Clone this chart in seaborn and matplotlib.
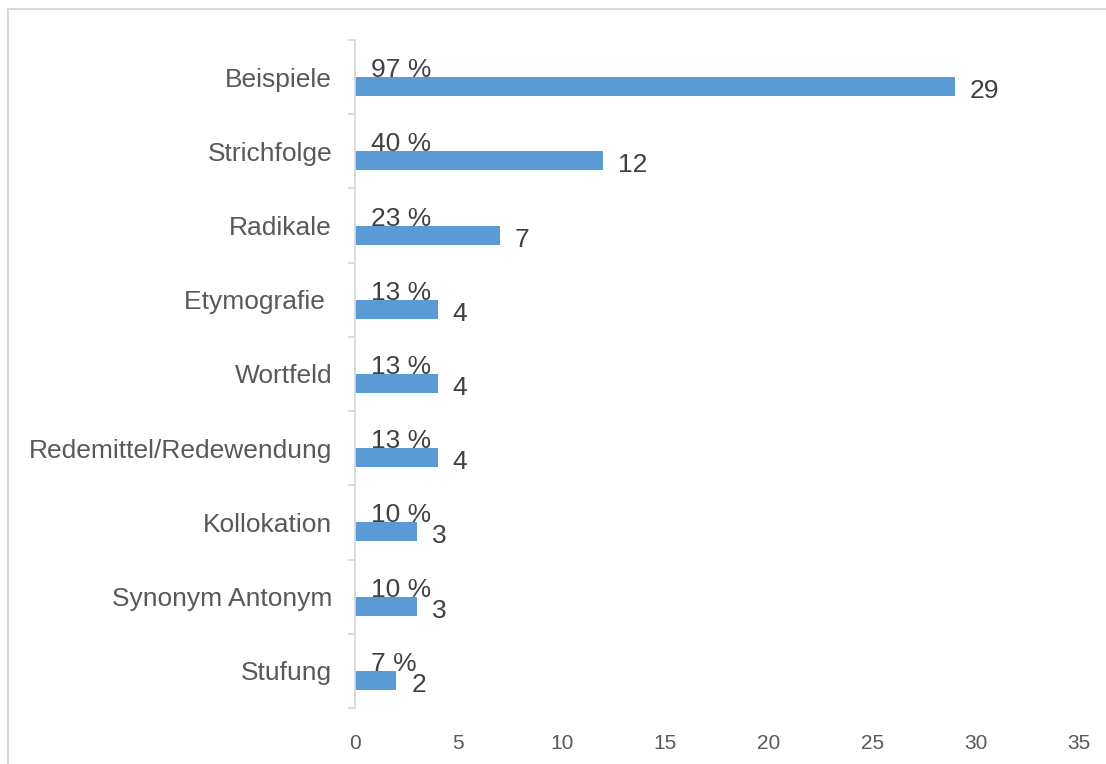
import matplotlib
matplotlib.use("Agg")
import matplotlib.pyplot as plt
from matplotlib.lines import Line2D
from matplotlib.ticker import FixedLocator
import pandas as pd
import seaborn as sns

# Data
categories = ["Beispiele", "Strichfolge", "Radikale", "Etymografie ", "Wortfeld",
              "Redemittel/Redewendung", "Kollokation", "Synonym Antonym", "Stufung"]
counts = [29, 12, 7, 4, 4, 4, 3, 3, 2]
shares = [97, 40, 23, 13, 13, 13, 10, 10, 7]
x_ticks = [0, 5, 10, 15, 20, 25, 30, 35]

sns.set_theme(style="white")
plt.rcParams["font.family"] = ["Liberation Sans", "DejaVu Sans"]

BLUE = "#5B9BD5"
GRID = "#D9D9D9"
LABEL = "#595959"
VALUE = "#404040"

# Two series per category: a hidden share series (upper slot) and the counts (lower slot)
df = pd.DataFrame({
    "Kategorie": categories * 2,
    "Serie": ["Anteil"] * len(categories) + ["Anzahl"] * len(categories),
    "Wert": [0] * len(categories) + counts,
})

fig = plt.figure(figsize=(11.06, 7.64), dpi=100)
ax = fig.add_axes([355 / 1106, 1 - 708 / 764, (1079 - 355) / 1106, (708 - 40) / 764])

sns.barplot(data=df, x="Wert", y="Kategorie", hue="Serie", hue_order=["Anteil", "Anzahl"],
            order=categories, palette={"Anteil": BLUE, "Anzahl": BLUE}, saturation=1,
            orient="h", dodge=True, width=0.512, linewidth=0, errorbar=None,
            legend=False, ax=ax)

ax.set_xlim(0, 35)
ax.set_ylim(len(categories) - 0.5, -0.5)
ax.set_xlabel("")
ax.set_ylabel("")

for i, (c, s) in enumerate(zip(counts, shares)):
    ax.annotate(f"{s} %", xy=(0, i), xytext=(16, 0), textcoords="offset pixels",
                ha="left", va="baseline", fontsize=19, color=VALUE)
    ax.annotate(f"{c}", xy=(c, i + 0.283), xytext=(15, 0), textcoords="offset pixels",
                ha="left", va="baseline", fontsize=19, color=VALUE)

# Axes styling
for side in ["top", "right", "bottom"]:
    ax.spines[side].set_visible(False)
ax.spines["left"].set_color(GRID)
ax.spines["left"].set_linewidth(1.3)

ax.set_xticks(x_ticks)
ax.set_xticklabels([str(t) for t in x_ticks], fontsize=15, color=LABEL)
ax.tick_params(axis="x", length=0, pad=19)

ax.tick_params(axis="y", which="major", length=0, pad=16.5, labelsize=19, labelcolor=LABEL)
for lbl in ax.get_yticklabels():
    lbl.set_y(lbl.get_position()[1])
ax.yaxis.set_minor_locator(FixedLocator([i - 0.5 for i in range(len(categories) + 1)]))
ax.tick_params(axis="y", which="minor", left=True, length=5, width=1.3, color=GRID)

ax.grid(False)

# Outer frame (left and top edges)
fx = 8 / 1106
fy = 1 - 9 / 764
fig.add_artist(Line2D([fx, fx], [0, fy], transform=fig.transFigure, color=GRID, lw=1.5))
fig.add_artist(Line2D([fx, 1], [fy, fy], transform=fig.transFigure, color=GRID, lw=1.5))

fig.savefig("out.png", dpi=100)
